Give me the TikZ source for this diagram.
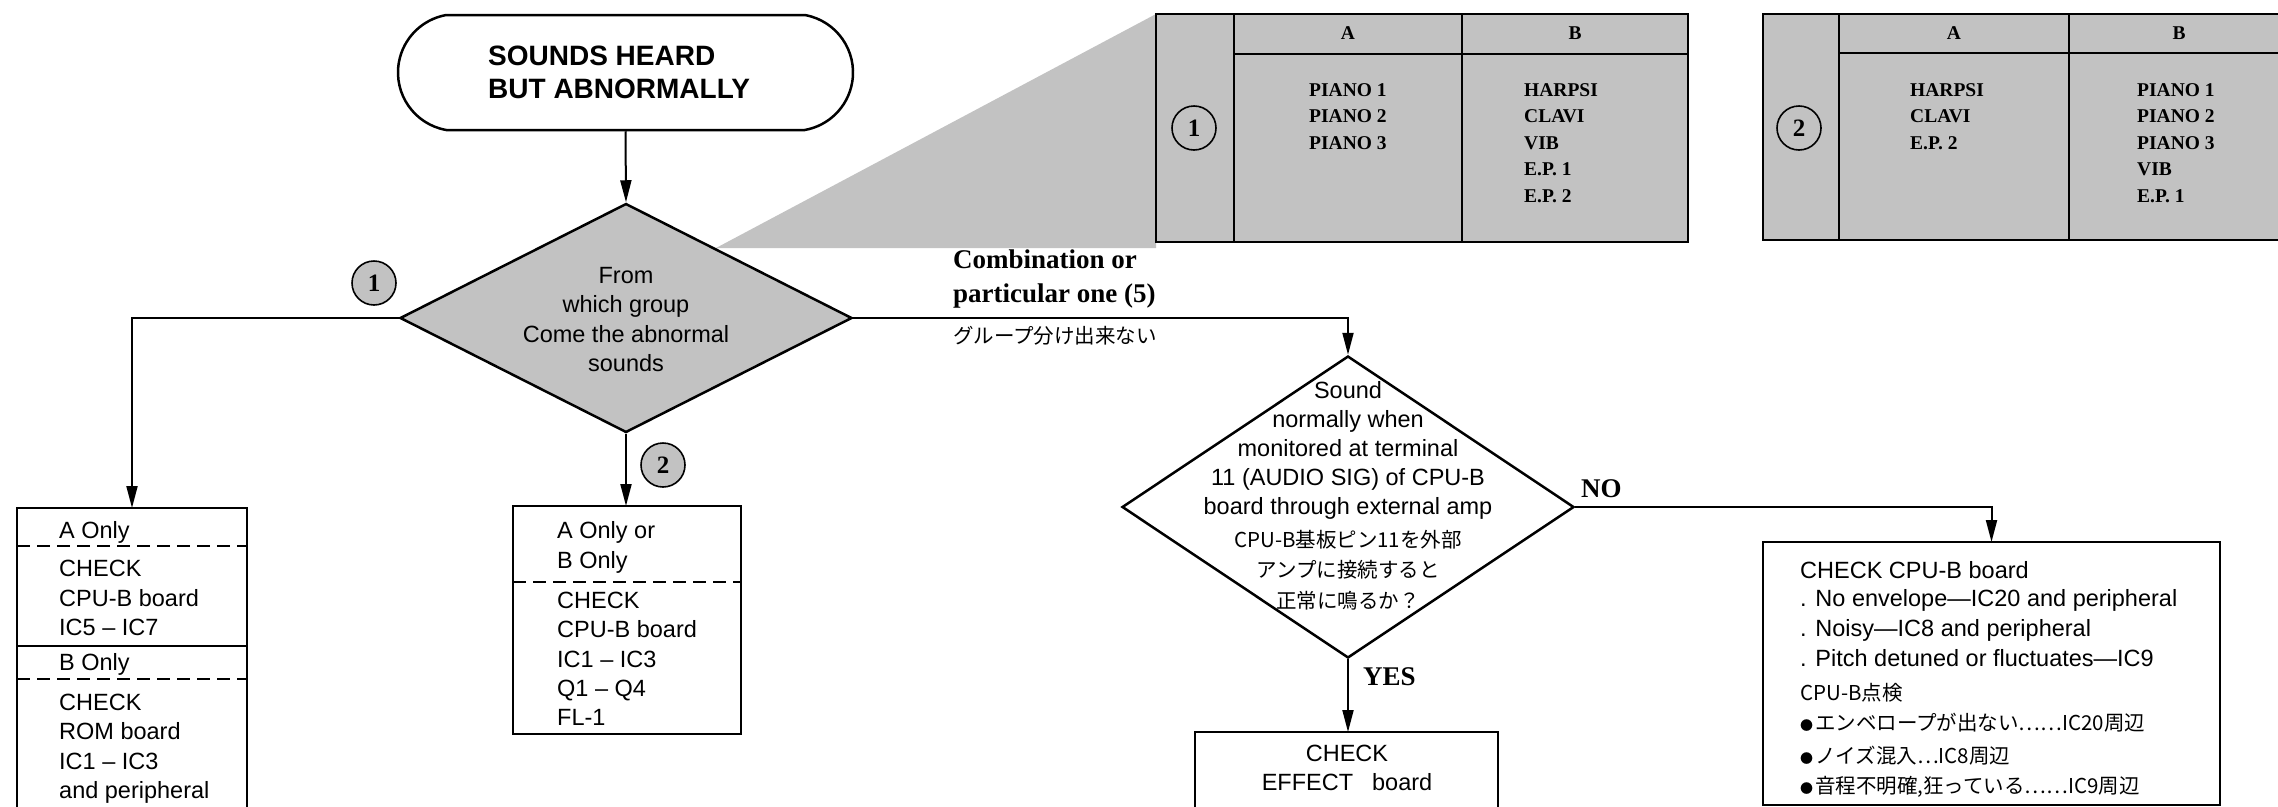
\documentclass[tikz,border=0pt]{standalone}
\usepackage{fontspec}
\setmainfont{Liberation Serif}
\setsansfont{Liberation Sans}
\newfontfamily\jpfont{Noto Sans CJK JP}
\usetikzlibrary{shapes.geometric,shapes.misc,arrows.meta}
\definecolor{dotgray}{RGB}{194,194,194}
\newcommand{\smallbullet}{{\fontsize{13}{13}\selectfont ●}\hspace{2pt}}
\begin{document}
\begin{tikzpicture}[x=1pt,y=-1pt,
  sans/.style={font=\fontsize{23.5}{28}\selectfont\sffamily, inner sep=0},
  jtxt/.style={font=\fontsize{20.5}{24}\selectfont\jpfont, inner sep=0},
  serb/.style={font=\fontsize{27}{32}\selectfont\rmfamily\bfseries, inner sep=0},
  tab/.style={font=\fontsize{19.5}{22}\selectfont\rmfamily\bfseries, inner sep=0},
  termtxt/.style={font=\fontsize{28}{32}\selectfont\sffamily\bfseries, inner sep=0},
  boxnode/.style={draw, line width=2.5pt, inner sep=0, outer sep=0},
  arr/.style={line width=2pt, -{Triangle[length=22pt,width=11pt]}},
  sepdash/.style={line width=2pt, dash pattern=on 13pt off 7pt},
  circ/.style={circle, draw, line width=1.6pt, minimum size=44pt, inner sep=0,
    font=\fontsize{25}{25}\selectfont\rmfamily\bfseries},
]
\clip (0,0) rectangle (2278,806);
% ---- projection wedge and table 1
\fill[dotgray] (716,248) -- (1156,14) -- (1156,248) -- cycle;
\fill[dotgray] (1156,14) rectangle (1688,242);
\draw[line width=2.5pt] (1156,14) rectangle (1688,242);
\draw[line width=1.8pt] (1234,14) -- (1234,242) (1462,14) -- (1462,242);
\draw[line width=2.2pt] (1234,54) -- (1688,54);
\node[circ] (t1c) at (1194,128) {1};
\node[tab] (t1ha) at (1348,33) {A};
\node[tab] (t1hb) at (1575,33) {B};
\foreach \t [count=\i] in {PIANO 1, PIANO 2, PIANO 3}
  \node[tab, anchor=base west] (t1a\i) at (1309,{96+26.5*(\i-1)}) {\t};
\foreach \t [count=\i] in {HARPSI, CLAVI, VIB, E.P. 1, E.P. 2}
  \node[tab, anchor=base west] (t1b\i) at (1524,{96+26.5*(\i-1)}) {\t};
% ---- table 2
\fill[dotgray] (1763,14) rectangle (2300,240);
\draw[line width=2.5pt] (2300,14) -- (1763,14) -- (1763,240) -- (2300,240);
\draw[line width=1.8pt] (1839,14) -- (1839,240) (2069,14) -- (2069,240);
\draw[line width=2.2pt] (1839,53) -- (2300,53);
\node[circ] (t2c) at (1799,128) {2};
\node[tab] (t2ha) at (1954,33) {A};
\node[tab] (t2hb) at (2179,33) {B};
\foreach \t [count=\i] in {HARPSI, CLAVI, E.P. 2}
  \node[tab, anchor=base west] (t2a\i) at (1910,{96+26.5*(\i-1)}) {\t};
\foreach \t [count=\i] in {PIANO 1, PIANO 2, PIANO 3, VIB, E.P. 1}
  \node[tab, anchor=base west] (t2b\i) at (2137,{96+26.5*(\i-1)}) {\t};
% ---- terminator
\node[rounded rectangle, rounded rectangle arc length=160, draw, line width=2.5pt,
  minimum width=455pt, minimum height=115pt, inner sep=0] (term) at (625.5,72.5) {};
\node[termtxt, anchor=base west] (tt1) at (488,65) {SOUNDS HEARD};
\node[termtxt, anchor=base west] (tt2) at (488,98) {BUT ABNORMALLY};
% ---- decision 1
\node[diamond, draw, fill=dotgray, line width=2.5pt, minimum width=452pt,
  minimum height=229pt, inner sep=0] (d1) at (626,318) {};
\foreach \t [count=\i] in {From, which group, Come the abnormal, sounds}
  \node[sans, anchor=base] (d1t\i) at (626,{283.5+29.3*(\i-1)}) {\t};
\node[circ, fill=dotgray] (c1) at (374,283) {1};
\node[circ, fill=dotgray] (c2) at (663,465) {2};
% ---- labels of right branch
\node[serb, anchor=base west] (comb1) at (953,268) {Combination or};
\node[serb, anchor=base west] (comb2) at (953,302) {particular one (5)};
\node[jtxt, anchor=base west] (comb3) at (953,343) {グループ分け出来ない};
% ---- box A
\node[boxnode, minimum width=230pt, minimum height=320pt, anchor=north west] (boxA) at (17,508) {};
\draw[sepdash] (17,546) -- (247,546);
\draw[line width=2.5pt] (17,646) -- (247,646);
\draw[sepdash] (17,679) -- (247,679);
\node[sans, anchor=base west] (a0) at (59,538.5) {A Only};
\foreach \t [count=\i] in {CHECK, CPU-B board, IC5 – IC7}
  \node[sans, anchor=base west] (a\i) at (59,{576.5+29.5*(\i-1)}) {\t};
\node[sans, anchor=base west] (b0) at (59,670.5) {B Only};
\foreach \t [count=\i] in {CHECK, ROM board, IC1 – IC3, and peripheral}
  \node[sans, anchor=base west] (b\i) at (59,{710.5+29.3*(\i-1)}) {\t};
% ---- box 2
\node[boxnode, minimum width=228pt, minimum height=228pt, anchor=north west] (box2) at (513,506) {};
\draw[sepdash] (513,582) -- (741,582);
\node[sans, anchor=base west] (e1) at (557,538.5) {A Only or};
\node[sans, anchor=base west] (e2) at (557,568.5) {B Only};
\foreach \t [count=\i] in {CHECK, CPU-B board, IC1 – IC3, Q1 – Q4, FL-1}
  \node[sans, anchor=base west] (f\i) at (557,{608.5+29.25*(\i-1)}) {\t};
% ---- decision 2
\node[diamond, draw, line width=2.5pt, minimum width=452pt,
  minimum height=302pt, inner sep=0] (d2) at (1348,507) {};
\foreach \t [count=\i] in {Sound, normally when, monitored at terminal, 11 (AUDIO SIG) of CPU-B, board through external amp}
  \node[sans, anchor=base] (d2t\i) at (1348,{398.5+29*(\i-1)}) {\t};
\node[jtxt, anchor=base] (d2j1) at (1348,547) {CPU-B基板ピン11を外部};
\node[jtxt, anchor=base] (d2j2) at (1348,577) {アンプに接続すると};
\node[jtxt, anchor=base] (d2j3) at (1348,608) {正常に鳴るか？};
\node[serb, anchor=base west] (no) at (1581,497) {NO};
\node[serb, anchor=base west] (yes) at (1363,685) {YES};
% ---- box NO
\node[boxnode, minimum width=457pt, minimum height=263pt, anchor=north west] (boxNO) at (1763,542) {};
\node[sans, anchor=base west] (n1) at (1800,578.5) {CHECK CPU-B board};
\node[sans, anchor=base west] (n2) at (1800,606.5) {. No envelope—IC20 and peripheral};
\node[sans, anchor=base west] (n3) at (1800,636.5) {. Noisy—IC8 and peripheral};
\node[sans, anchor=base west] (n4) at (1800,666.5) {. Pitch detuned or fluctuates—IC9};
\node[jtxt, anchor=base west] (n5) at (1800,700) {CPU-B点検};
\node[jtxt, anchor=base west] (n6) at (1800,730) {\smallbullet エンベロープが出ない……IC20周辺};
\node[jtxt, anchor=base west] (n7) at (1800,763) {\smallbullet ノイズ混入…IC8周辺};
\node[jtxt, anchor=base west] (n8) at (1800,793) {\smallbullet 音程不明確,狂っている……IC9周辺};
% ---- box YES
\node[boxnode, minimum width=303pt, minimum height=100pt, anchor=north west] (boxYES) at (1195,732) {};
\node[sans, anchor=base] (y1) at (1347,761.5) {CHECK};
\node[sans, anchor=base] (y2) at (1347,790.5) {EFFECT\hspace{19pt}board};
% ---- connectors
\draw[arr] (term.south) -- (d1.north);
\draw[arr] (d1.west) -| (boxA.north);
\draw[arr] (d1.south) -- (d1.south |- box2.north);
\draw[arr] (d1.east) -| (d2.north);
\draw[arr] (d2.east) -| (boxNO.north);
\draw[arr] (d2.south) -- (d2.south |- boxYES.north);
\end{tikzpicture}
\end{document}
